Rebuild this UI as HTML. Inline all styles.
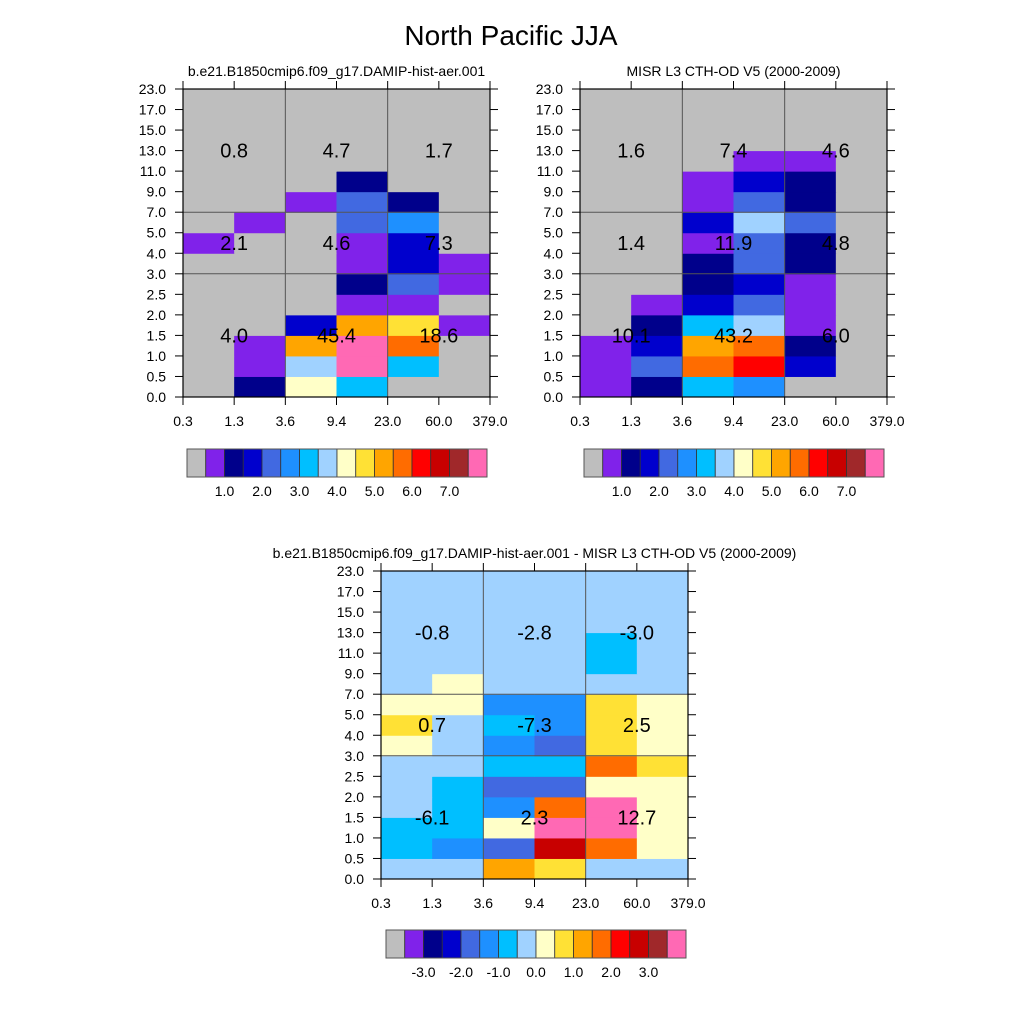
<!DOCTYPE html>
<html><head><meta charset="utf-8"><style>
html,body{margin:0;padding:0;background:#fff;}
svg{display:block;font-family:"Liberation Sans",sans-serif;}
</style></head><body>
<svg id="chart" width="1024" height="1024" viewBox="0 0 1024 1024">
<text x="511" y="45" text-anchor="middle" font-size="28">North Pacific JJA</text>
</svg>
<script>
const palette = ["#BEBEBE","#8022EA","#00008B","#0000CD","#4169E1","#1E90FF","#00BFFF","#A0D2FF","#FFFFC8","#FFE135","#FFA500","#FF6C00","#FF0000","#C80000","#A0282A","#FF69B4"];
const xTicks = ["0.3","1.3","3.6","9.4","23.0","60.0","379.0"];
const yTicks = ["0.0","0.5","1.0","1.5","2.0","2.5","3.0","4.0","5.0","7.0","9.0","11.0","13.0","15.0","17.0","23.0"];
const cbLabelsTop = ["1.0","2.0","3.0","4.0","5.0","6.0","7.0"];
const cbLabelsDiff = ["-3.0","-2.0","-1.0","0.0","1.0","2.0","3.0"];
// color class per cell; rows from bottom (0.0-0.5) to top (17-23), columns 0..5
const modelLevels = [
 [0,2,8,6,0,0],
 [0,1,7,15,6,0],
 [0,1,10,15,11,0],
 [0,0,3,10,9,1],
 [0,0,0,1,1,0],
 [0,0,0,2,4,1],
 [0,0,0,1,3,1],
 [1,0,0,1,3,0],
 [0,1,0,4,5,0],
 [0,0,1,4,2,0],
 [0,0,0,2,0,0],
 [0,0,0,0,0,0],
 [0,0,0,0,0,0],
 [0,0,0,0,0,0],
 [0,0,0,0,0,0]];
const obsLevels = [
 [1,2,6,5,0,0],
 [1,4,11,12,3,0],
 [1,3,10,11,2,0],
 [0,2,6,7,1,0],
 [0,1,3,4,1,0],
 [0,0,2,3,1,0],
 [0,0,2,4,2,0],
 [0,0,1,4,2,0],
 [0,0,3,7,4,0],
 [0,0,1,4,2,0],
 [0,0,1,3,2,0],
 [0,0,0,1,1,0],
 [0,0,0,0,0,0],
 [0,0,0,0,0,0],
 [0,0,0,0,0,0]];
const diffLevels = [
 [7,7,10,9,7,7],
 [6,5,4,13,11,8],
 [6,6,8,15,15,8],
 [7,6,5,11,15,8],
 [7,6,4,4,8,8],
 [7,7,6,6,11,9],
 [8,7,5,4,9,8],
 [9,7,6,5,9,8],
 [8,8,5,5,9,8],
 [7,8,7,7,7,7],
 [7,7,7,7,6,7],
 [7,7,7,7,6,7],
 [7,7,7,7,7,7],
 [7,7,7,7,7,7],
 [7,7,7,7,7,7]];
const modelTotals = [["4.0","45.4","18.6"],["2.1","4.6","7.3"],["0.8","4.7","1.7"]];
const obsTotals = [["10.1","43.2","6.0"],["1.4","11.9","4.8"],["1.6","7.4","4.6"]];
const diffTotals = [["-6.1","2.3","12.7"],["0.7","-7.3","2.5"],["-0.8","-2.8","-3.0"]];

const NS="http://www.w3.org/2000/svg";
const svg=document.getElementById('chart');
function mk(tag,attrs,parent){const e=document.createElementNS(NS,tag);for(const k in attrs)e.setAttribute(k,attrs[k]);(parent||svg).appendChild(e);return e;}

function panel(name,L,T,levels,totals,subtitle){
  const W=307,H=308,nc=levels[0].length,nr=levels.length;
  const g=mk('g',{});
  
  
  const xs=i=>L+i*W/nc, ys=j=>T+H-j*H/nr;
  levels.forEach((row,j)=>row.forEach((v,i)=>{
    const r=mk('rect',{x:xs(i),y:ys(j+1),width:W/nc+0.5,height:H/nr+0.5,fill:palette[v]},g);
    
    
  }));
  [2,4].forEach(i=>mk('line',{x1:xs(i),x2:xs(i),y1:T,y2:T+H,stroke:'#555','stroke-width':1},g));
  [6,9].forEach(j=>mk('line',{x1:L,x2:L+W,y1:ys(j),y2:ys(j),stroke:'#555','stroke-width':1},g));
  mk('rect',{x:L,y:T,width:W,height:H,fill:'none',stroke:'#000','stroke-width':1.2},g);
  xTicks.forEach((t,i)=>{
    const x=xs(i);
    mk('line',{x1:x,x2:x,y1:T+H,y2:T+H+8,stroke:'#000'},g);
    mk('line',{x1:x,x2:x,y1:T,y2:T-8,stroke:'#000'},g);
    const tx=mk('text',{x:x,y:T+H+29,'text-anchor':'middle','font-size':14},g);tx.textContent=t;
    
    
  });
  yTicks.forEach((t,j)=>{
    const y=ys(j);
    mk('line',{x1:L,x2:L-8,y1:y,y2:y,stroke:'#000'},g);
    mk('line',{x1:L+W,x2:L+W+8,y1:y,y2:y,stroke:'#000'},g);
    const tx=mk('text',{x:L-17,y:y+5,'text-anchor':'end','font-size':14},g);tx.textContent=t;
    
    
  });
  const cx=[1,3,5], cy=[3,7.5,12];
  totals.forEach((row,r)=>row.forEach((t,c)=>{
    const tx=mk('text',{x:xs(cx[c]),y:ys(cy[r])+7,'text-anchor':'middle','font-size':20},g);tx.textContent=t;
    
    
  }));
  const st=mk('text',{x:L+W/2,y:T-13,'text-anchor':'middle','font-size':14},g);st.textContent=subtitle;
  
  
}
function colorbar(name,L,T,labels){
  const g=mk('g',{});
  
  
  const bw=300/palette.length;
  palette.forEach((c,i)=>{
    const r=mk('rect',{x:L+i*bw,y:T,width:bw,height:28,fill:c,stroke:'#333','stroke-width':0.8},g);
    
    
  });
  mk('rect',{x:L,y:T,width:300,height:28,fill:'none',stroke:'#555','stroke-width':1},g);
  labels.forEach((t,k)=>{
    const tx=mk('text',{x:L+(2+2*k)*bw,y:T+47,'text-anchor':'middle','font-size':14},g);tx.textContent=t;
    
    
  });
}
panel('model-panel',183,89,modelLevels,modelTotals,'b.e21.B1850cmip6.f09_g17.DAMIP-hist-aer.001');
panel('obs-panel',580,89,obsLevels,obsTotals,'MISR L3 CTH-OD V5 (2000-2009)');
panel('diff-panel',381,571,diffLevels,diffTotals,'b.e21.B1850cmip6.f09_g17.DAMIP-hist-aer.001 - MISR L3 CTH-OD V5 (2000-2009)');
colorbar('model-colorbar',187,449,cbLabelsTop);
colorbar('obs-colorbar',584,449,cbLabelsTop);
colorbar('diff-colorbar',386,930,cbLabelsDiff);
</script>
</body></html>
